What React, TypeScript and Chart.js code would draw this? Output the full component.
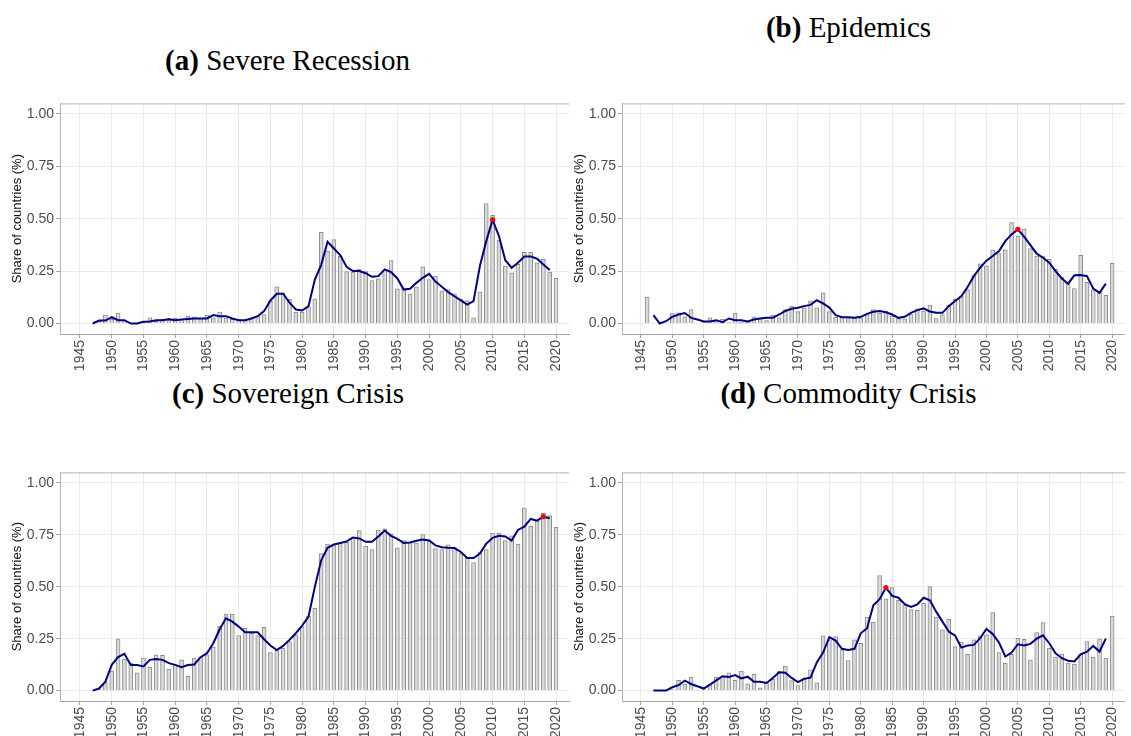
import React, { useEffect, useRef } from "react";
import Chart from "chart.js/auto";

const barYears = [1946, 1947, 1948, 1949, 1950, 1951, 1952, 1953, 1954, 1955, 1956, 1957, 1958, 1959, 1960, 1961, 1962, 1963, 1964, 1965, 1966, 1967, 1968, 1969, 1970, 1971, 1972, 1973, 1974, 1975, 1976, 1977, 1978, 1979, 1980, 1981, 1982, 1983, 1984, 1985, 1986, 1987, 1988, 1989, 1990, 1991, 1992, 1993, 1994, 1995, 1996, 1997, 1998, 1999, 2000, 2001, 2002, 2003, 2004, 2005, 2006, 2007, 2008, 2009, 2010, 2011, 2012, 2013, 2014, 2015, 2016, 2017, 2018, 2019, 2020];
const lineYears = [1947, 1948, 1949, 1950, 1951, 1952, 1953, 1954, 1955, 1956, 1957, 1958, 1959, 1960, 1961, 1962, 1963, 1964, 1965, 1966, 1967, 1968, 1969, 1970, 1971, 1972, 1973, 1974, 1975, 1976, 1977, 1978, 1979, 1980, 1981, 1982, 1983, 1984, 1985, 1986, 1987, 1988, 1989, 1990, 1991, 1992, 1993, 1994, 1995, 1996, 1997, 1998, 1999, 2000, 2001, 2002, 2003, 2004, 2005, 2006, 2007, 2008, 2009, 2010, 2011, 2012, 2013, 2014, 2015, 2016, 2017, 2018, 2019];
const xTickYears = [1945, 1950, 1955, 1960, 1965, 1970, 1975, 1980, 1985, 1990, 1995, 2000, 2005, 2010, 2015, 2020];
const yTickValues = [0, 0.25, 0.5, 0.75, 1];

const recessionBars = [
  0, 0, 0.01, 0.04, 0.02, 0.05, 0.015, 0, 0, 0.01,
  0.027, 0.01, 0.02, 0.024, 0.025, 0.02, 0.035, 0.032, 0.025, 0.04,
  0.027, 0.055, 0.027, 0.02, 0.02, 0.015, 0.025, 0.035, 0.043, 0.107,
  0.175, 0.146, 0.115, 0.054, 0.054, 0.08, 0.118, 0.435, 0.344, 0.4,
  0.32, 0.248, 0.245, 0.26, 0.248, 0.205, 0.213, 0.255, 0.3, 0.166,
  0.17, 0.142, 0.175, 0.27, 0.21, 0.226, 0.156, 0.162, 0.142, 0.115,
  0.11, 0.027, 0.151, 0.572, 0.516, 0.398, 0.274, 0.242, 0.282, 0.339,
  0.339, 0.29, 0.306, 0.245, 0.215,
];
const recessionLine = [
  0, 0.014, 0.014, 0.03, 0.016, 0.016, 0, 0, 0.008, 0.01,
  0.016, 0.016, 0.02, 0.016, 0.019, 0.022, 0.024, 0.024, 0.024, 0.04,
  0.035, 0.035, 0.024, 0.016, 0.016, 0.024, 0.035, 0.059, 0.11, 0.142,
  0.142, 0.1, 0.067, 0.062, 0.083, 0.21, 0.28, 0.39, 0.358, 0.326,
  0.27, 0.25, 0.25, 0.24, 0.223, 0.226, 0.258, 0.245, 0.215, 0.162,
  0.166, 0.194, 0.218, 0.237, 0.2, 0.175, 0.15, 0.13, 0.11, 0.09,
  0.107, 0.274, 0.393, 0.495, 0.417, 0.302, 0.266, 0.29, 0.32, 0.32,
  0.309, 0.282, 0.255,
];

const epidemicBars = [
  0.126, 0, 0, 0, 0.048, 0.051, 0.032, 0.067, 0, 0.005,
  0.027, 0.013, 0.02, 0.005, 0.05, 0.006, 0.006, 0.032, 0.027, 0.014,
  0.04, 0.027, 0.067, 0.083, 0.057, 0.075, 0.108, 0.075, 0.146, 0.057,
  0.029, 0.029, 0.029, 0.027, 0.027, 0.043, 0.067, 0.05, 0.059, 0.035,
  0.024, 0.022, 0.043, 0.07, 0.059, 0.088, 0.024, 0.043, 0.088, 0.115,
  0.13, 0.162, 0.231, 0.285, 0.275, 0.35, 0.334, 0.352, 0.481, 0.417,
  0.452, 0.357, 0.322, 0.322, 0.306, 0.258, 0.221, 0.194, 0.167, 0.325,
  0.197, 0.162, 0.146, 0.134, 0.287,
];
const epidemicLine = [
  0.04, 0, 0.011, 0.032, 0.043, 0.05, 0.027, 0.019, 0.01, 0.01,
  0.016, 0.006, 0.024, 0.016, 0.016, 0.01, 0.019, 0.024, 0.027, 0.027,
  0.043, 0.06, 0.07, 0.075, 0.083, 0.089, 0.111, 0.096, 0.076, 0.04,
  0.03, 0.03, 0.027, 0.032, 0.046, 0.056, 0.06, 0.054, 0.043, 0.027,
  0.032, 0.051, 0.064, 0.072, 0.057, 0.051, 0.051, 0.083, 0.107, 0.13,
  0.174, 0.226, 0.266, 0.3, 0.322, 0.346, 0.393, 0.425, 0.449, 0.414,
  0.374, 0.333, 0.314, 0.29, 0.25, 0.215, 0.19, 0.23, 0.231, 0.226,
  0.167, 0.146, 0.19,
];

const sovereignBars = [
  0, 0, 0.005, 0.04, 0.094, 0.249, 0.152, 0.132, 0.085, 0.156,
  0.113, 0.172, 0.17, 0.104, 0.124, 0.148, 0.069, 0.156, 0.16, 0.172,
  0.209, 0.311, 0.368, 0.368, 0.265, 0.3, 0.276, 0.265, 0.305, 0.183,
  0.193, 0.204, 0.236, 0.268, 0.308, 0.359, 0.396, 0.659, 0.705, 0.703,
  0.71, 0.714, 0.738, 0.77, 0.695, 0.679, 0.772, 0.778, 0.754, 0.687,
  0.722, 0.714, 0.71, 0.751, 0.722, 0.684, 0.679, 0.702, 0.687, 0.659,
  0.64, 0.616, 0.667, 0.679, 0.758, 0.758, 0.722, 0.745, 0.705, 0.879,
  0.791, 0.818, 0.853, 0.842, 0.786,
];
const sovereignLine = [
  0, 0.01, 0.043, 0.124, 0.161, 0.177, 0.123, 0.123, 0.116, 0.148,
  0.152, 0.148, 0.132, 0.124, 0.113, 0.123, 0.126, 0.161, 0.18, 0.228,
  0.295, 0.348, 0.332, 0.308, 0.281, 0.281, 0.281, 0.247, 0.217, 0.195,
  0.215, 0.244, 0.276, 0.313, 0.356, 0.5, 0.627, 0.687, 0.703, 0.71,
  0.718, 0.737, 0.732, 0.716, 0.716, 0.742, 0.77, 0.745, 0.73, 0.71,
  0.713, 0.721, 0.727, 0.722, 0.699, 0.69, 0.687, 0.686, 0.667, 0.638,
  0.638, 0.659, 0.707, 0.735, 0.745, 0.742, 0.722, 0.773, 0.789, 0.826,
  0.818, 0.837, 0.829,
];

const commodityBars = [
  0, 0, 0, 0, 0.005, 0.049, 0.032, 0.065, 0.002, 0.005,
  0.029, 0.065, 0.069, 0.085, 0.049, 0.094, 0.033, 0.078, 0.013, 0.037,
  0.056, 0.092, 0.118, 0.048, 0.024, 0.056, 0.1, 0.037, 0.263, 0.244,
  0.26, 0.196, 0.145, 0.244, 0.228, 0.354, 0.329, 0.553, 0.442, 0.496,
  0.435, 0.41, 0.39, 0.386, 0.42, 0.5, 0.354, 0.292, 0.343, 0.212,
  0.233, 0.175, 0.244, 0.263, 0.268, 0.376, 0.183, 0.132, 0.175, 0.252,
  0.247, 0.148, 0.279, 0.327, 0.204, 0.161, 0.177, 0.132, 0.128, 0.175,
  0.236, 0.161, 0.249, 0.156, 0.359,
];
const commodityLine = [
  0, 0, 0, 0.016, 0.026, 0.048, 0.032, 0.021, 0.01, 0.029,
  0.049, 0.069, 0.065, 0.075, 0.059, 0.067, 0.043, 0.043, 0.037, 0.061,
  0.088, 0.086, 0.061, 0.041, 0.057, 0.062, 0.136, 0.183, 0.257, 0.241,
  0.201, 0.196, 0.201, 0.276, 0.3, 0.411, 0.44, 0.496, 0.456, 0.447,
  0.416, 0.403, 0.415, 0.447, 0.435, 0.38, 0.332, 0.284, 0.265, 0.207,
  0.217, 0.22, 0.252, 0.297, 0.273, 0.231, 0.164, 0.183, 0.223, 0.217,
  0.225, 0.25, 0.266, 0.228, 0.18, 0.156, 0.144, 0.14, 0.175, 0.187,
  0.215, 0.188, 0.25,
];

Chart.defaults.font.family = "'Liberation Sans', Arial, sans-serif";

const topBorder = {
  id: "topBorder",
  afterDraw(chart: any) {
    const { ctx, chartArea } = chart;
    ctx.save();
    ctx.strokeStyle = "#B3B3B3";
    ctx.lineWidth = 1;
    ctx.beginPath();
    ctx.moveTo(chartArea.left, chartArea.top + 0.5);
    ctx.lineTo(chartArea.right, chartArea.top + 0.5);
    ctx.stroke();
    ctx.restore();
  },
};

type PanelProps = {
  bars: number[];
  line: number[];
  left: number;
  top: number;
  width: number;
  plotH: number;
  padRight: number;
  xMin: number;
  xMax: number;
};

function Panel({ bars, line, left, top, width, plotH, padRight, xMin, xMax }: PanelProps) {
  const ref = useRef<HTMLCanvasElement | null>(null);
  const height = 10 + plotH + 48;
  useEffect(() => {
    if (!ref.current) return;
    const barData = barYears.map((x, i) => ({ x, y: bars[i] }));
    const lineData = lineYears.map((x, i) => ({ x, y: line[i] }));
    let pk = 0;
    line.forEach((v, i) => {
      if (v > line[pk]) pk = i;
    });
    const peak = [{ x: lineYears[pk], y: line[pk] }];
    const chart = new Chart(ref.current, {
      type: "bar",
      data: {
        datasets: [
          {
            type: "line",
            data: peak,
            showLine: false,
            pointRadius: 2.6,
            pointBackgroundColor: "#FF0000",
            pointBorderWidth: 0,
            order: 0,
          } as any,
          {
            type: "line",
            data: lineData,
            borderColor: "#000080",
            borderWidth: 2,
            pointRadius: 0,
            tension: 0,
            fill: false,
            order: 1,
          } as any,
          {
            type: "bar",
            data: barData,
            backgroundColor: "#D9D9D9",
            borderColor: "#8C8C8C",
            borderWidth: 1,
            barThickness: 4,
            order: 2,
          } as any,
        ],
      },
      options: {
        animation: false,
        responsive: false,
        events: [],
        layout: { padding: { top: 10, right: padRight, left: 0, bottom: 0 } },
        plugins: { legend: { display: false }, tooltip: { enabled: false } },
        scales: {
          x: {
            type: "linear",
            min: xMin,
            max: xMax,
            offset: false,
            afterBuildTicks: (ax: any) => {
              ax.ticks = xTickYears.map((v) => ({ value: v }));
            },
            afterFit: (ax: any) => {
              ax.height = 48;
            },
            ticks: {
              autoSkip: false,
              maxRotation: 90,
              minRotation: 90,
              padding: 2,
              color: "#4D4D4D",
              font: { size: 14 },
              callback: (v: any) => String(v),
            },
            grid: { color: "#EBEBEB", lineWidth: 1, tickLength: 4, tickColor: "#A6A6A6", offset: false },
            border: { display: true, color: "#A6A6A6", width: 1 },
          },
          y: {
            min: -0.05,
            max: 1.05,
            afterBuildTicks: (ax: any) => {
              ax.ticks = yTickValues.map((v) => ({ value: v }));
            },
            afterFit: (ax: any) => {
              ax.width = 60;
            },
            ticks: {
              padding: 2,
              color: "#4D4D4D",
              font: { size: 14 },
              callback: (v: any) => Number(v).toFixed(2),
            },
            grid: { color: "#EBEBEB", lineWidth: 1, tickLength: 4, tickColor: "#A6A6A6" },
            border: { display: true, color: "#B3B3B3", width: 1 },
            title: {
              display: true,
              text: "Share of countries (%)",
              color: "#111111",
              font: { size: 13 },
              padding: { top: 10, bottom: 0 },
            },
          },
        },
      } as any,
      plugins: [topBorder],
    });
    return () => chart.destroy();
  }, []);
  return (
    <canvas
      ref={ref}
      width={width}
      height={height}
      style={{ position: "absolute", left, top, width, height }}
    />
  );
}

const titleStyle: React.CSSProperties = {
  position: "absolute",
  width: 500,
  textAlign: "center",
  fontFamily: "'Liberation Serif', 'Times New Roman', serif",
  fontSize: 29,
  lineHeight: "29px",
  color: "#000",
  whiteSpace: "nowrap",
};

export default function App() {
  return (
    <div
      style={{
        position: "absolute",
        left: 0,
        top: 0,
        width: 1131,
        height: 736,
        overflow: "hidden",
        background: "#FFFFFF",
      }}
    >
      <div style={{ ...titleStyle, left: 287.5 - 250, top: 46 }}>
        <b>(a)</b> Severe Recession
      </div>
      <div style={{ ...titleStyle, left: 848.5 - 250, top: 13 }}>
        <b>(b)</b> Epidemics
      </div>
      <div style={{ ...titleStyle, left: 288 - 250, top: 379 }}>
        <b>(c)</b> Sovereign Crisis
      </div>
      <div style={{ ...titleStyle, left: 848.5 - 250, top: 379 }}>
        <b>(d)</b> Commodity Crisis
      </div>
      <Panel bars={recessionBars} line={recessionLine} left={0} top={93} width={575} plotH={231} padRight={5} xMin={1941.85} xMax={2022.1} />
      <Panel bars={epidemicBars} line={epidemicLine} left={562} top={93} width={569} plotH={231} padRight={0} xMin={1942.0} xMax={2022.05} />
      <Panel bars={sovereignBars} line={sovereignLine} left={0} top={462} width={575} plotH={229} padRight={5} xMin={1941.85} xMax={2022.1} />
      <Panel bars={commodityBars} line={commodityLine} left={562} top={462} width={569} plotH={229} padRight={0} xMin={1942.0} xMax={2022.05} />
    </div>
  );
}
